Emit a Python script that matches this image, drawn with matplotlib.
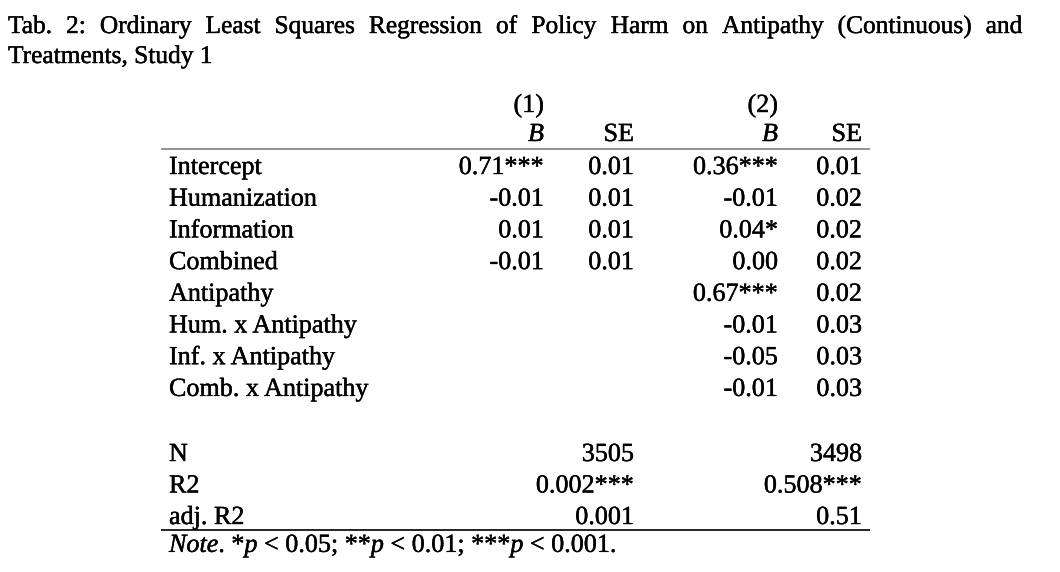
import matplotlib
matplotlib.use("Agg")
import matplotlib.pyplot as plt
import matplotlib.patheffects as pe

# ---- data ----
title_line1 = "Tab. 2: Ordinary Least Squares Regression of Policy Harm on Antipathy (Continuous) and"
title_line2 = "Treatments, Study 1"
model_labels = ["(1)", "(2)"]
row_labels = ["Intercept", "Humanization", "Information", "Combined", "Antipathy",
              "Hum. x Antipathy", "Inf. x Antipathy", "Comb. x Antipathy"]
b1 = ["0.71***", "-0.01", "0.01", "-0.01", "", "", "", ""]
se1 = ["0.01", "0.01", "0.01", "0.01", "", "", "", ""]
b2 = ["0.36***", "-0.01", "0.04*", "0.00", "0.67***", "-0.01", "-0.05", "-0.01"]
se2 = ["0.01", "0.02", "0.02", "0.02", "0.02", "0.03", "0.03", "0.03"]
stat_labels = ["N", "R2", "adj. R2"]
stat_m1 = ["3505", "0.002***", "0.001"]
stat_m2 = ["3498", "0.508***", "0.51"]

FONT = "Liberation Serif"
FS_TITLE = 18.3
FS = 18.8
plt.rcParams["mathtext.fontset"] = "custom"
plt.rcParams["mathtext.it"] = FONT + ":italic"
plt.rcParams["mathtext.rm"] = FONT

W, H = 1060, 572
fig = plt.figure(figsize=(W / 100, H / 100), dpi=100)
ax = fig.add_axes([0, 0, 1, 1])
ax.set_xlim(0, W)
ax.set_ylim(H, 0)
ax.axis("off")

EFF = [pe.withStroke(linewidth=0.3, foreground="black")]

def txt(x, y, s, ha="left", style="normal", size=FS):
    return ax.text(x, y, s, ha=ha, va="baseline", family=FONT, fontsize=size,
                   fontstyle=style, color="black", path_effects=EFF)

# ---- justified title line 1 ----
renderer = fig.canvas.get_renderer()
words = title_line1.split(" ")
x_left, x_right = 8, 1022
objs = [txt(0, 33, w, size=FS_TITLE) for w in words]
widths = [o.get_window_extent(renderer=renderer).width for o in objs]
gap = (x_right - x_left - sum(widths)) / (len(words) - 1)
x = x_left
for o, wdt in zip(objs, widths):
    o.set_x(x)
    x += wdt + gap
txt(8, 63, title_line2, size=FS_TITLE)

# ---- table ----
x_lab = 169
col_b1, col_se1, col_b2, col_se2 = 544, 634, 778, 862
rule_x0, rule_x1 = 161, 870

txt(col_b1, 112, model_labels[0], ha="right")
txt(col_b2, 112, model_labels[1], ha="right")
txt(col_b1, 141, "B", ha="right", style="italic")
txt(col_se1, 141, "SE", ha="right")
txt(col_b2, 141, "B", ha="right", style="italic")
txt(col_se2, 141, "SE", ha="right")

ax.plot([rule_x0, rule_x1], [148.5, 148.5], color="#808080", lw=1.2, solid_capstyle="butt")

y0, dy = 174, 31.7
for i, lab in enumerate(row_labels):
    y = y0 + i * dy
    txt(x_lab, y, lab)
    if b1[i]:
        txt(col_b1, y, b1[i], ha="right")
    if se1[i]:
        txt(col_se1, y, se1[i], ha="right")
    txt(col_b2, y, b2[i], ha="right")
    txt(col_se2, y, se2[i], ha="right")

sy0, sdy = 461, 31.5
for i, lab in enumerate(stat_labels):
    y = sy0 + i * sdy
    txt(x_lab, y, lab)
    txt(col_se1, y, stat_m1[i], ha="right")
    txt(col_se2, y, stat_m2[i], ha="right")

ax.plot([rule_x0, rule_x1], [530, 530], color="black", lw=1.2, solid_capstyle="butt")

note = (r"$\it{Note}$" + ". *" + r"$\it{p}$" + " < 0.05; **" + r"$\it{p}$" +
        " < 0.01; ***" + r"$\it{p}$" + " < 0.001.")
txt(x_lab, 552, note)

fig.savefig("out.png", dpi=100, facecolor="white")
